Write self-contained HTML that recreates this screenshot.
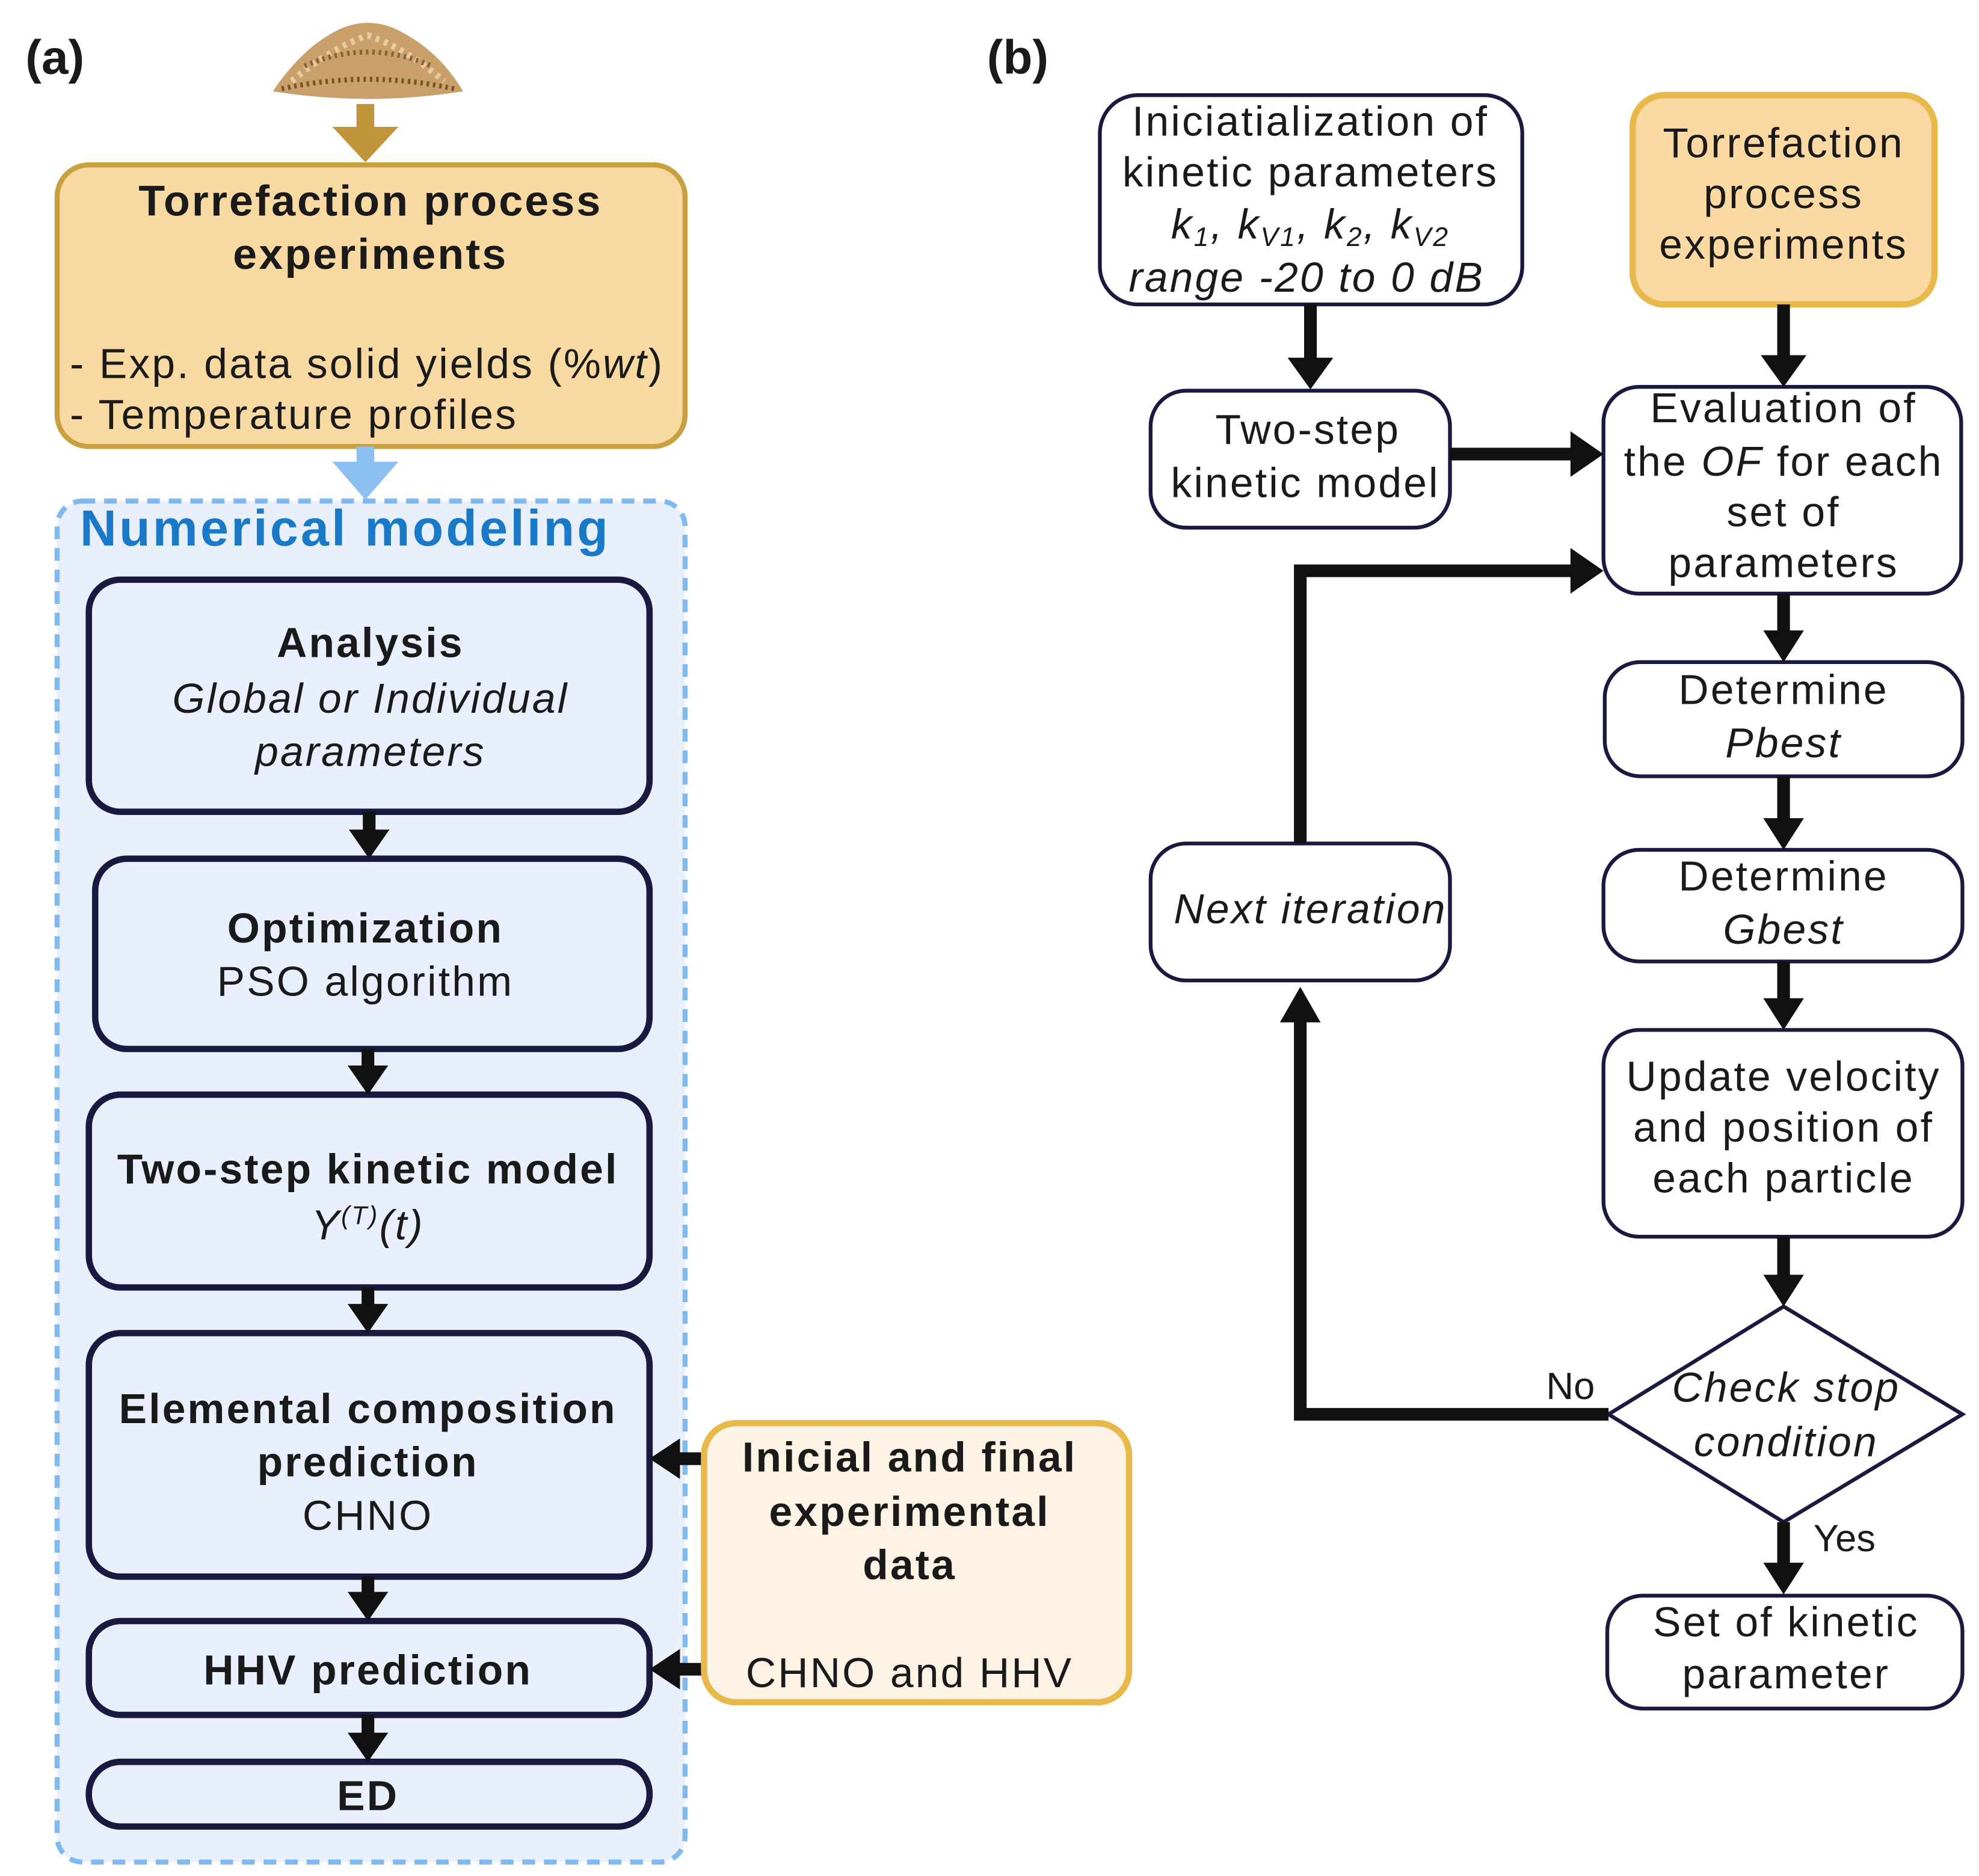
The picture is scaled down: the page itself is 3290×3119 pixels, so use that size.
<!DOCTYPE html>
<html><head><meta charset="utf-8"><style>
html,body{margin:0;padding:0;background:#fff;}
svg{display:block;}
text{font-family:"Liberation Sans",Arial,sans-serif;fill:#1a1a1a;letter-spacing:1.5px;}
.b{font-weight:bold;}
.i{font-style:italic;}
</style></head><body>
<svg width="3290" height="3119" viewBox="0 0 1560 1479" xmlns="http://www.w3.org/2000/svg">
<!-- (a) -->
<text x="20" y="58" class="b" font-size="38" style="letter-spacing:0">(a)</text>
<!-- pile -->
<path d="M215,72 Q240,35 270,22 Q290,14 310,22 Q345,38 365,72 Q290,84 215,72 Z" fill="#c9a06a"/>
<path d="M230,64 Q260,38 290,28 Q320,38 350,64" fill="none" stroke="#e6caa0" stroke-width="5" stroke-dasharray="3 4"/>
<path d="M240,52 Q290,30 340,52" fill="none" stroke="#8a6434" stroke-width="4" stroke-dasharray="2 3"/>
<path d="M222,70 Q290,55 358,70" fill="none" stroke="#7a5428" stroke-width="4" stroke-dasharray="2 3"/>
<!-- gold arrow -->
<line x1="288" y1="82" x2="288" y2="108" stroke="#c09438" stroke-width="14"/>
<polygon points="262,100 314,100 288,128" fill="#c09438"/>
<rect x="45" y="130" width="495" height="222" rx="25" fill="#f9d9a2" stroke="#c8a040" stroke-width="4"/>
<text x="292" y="170" class="b" font-size="34" text-anchor="middle">Torrefaction process</text>
<text x="292" y="212" class="b" font-size="34" text-anchor="middle">experiments</text>
<text x="55" y="298" font-size="33">- Exp. data solid yields (%<tspan class="i">wt</tspan>)</text>
<text x="55" y="338" font-size="33">- Temperature profiles</text>
<!-- blue arrow -->
<line x1="288" y1="352" x2="288" y2="372" stroke="#8cc0f0" stroke-width="14"/>
<polygon points="262,364 314,364 288,394" fill="#8cc0f0"/>
<rect x="45" y="395" width="495" height="1073" rx="20" fill="#eaf0fb" stroke="#80b8f0" stroke-width="4" stroke-dasharray="10 7"/>
<text x="63" y="430" class="b" font-size="40" style="fill:#1a7ac8;letter-spacing:2px">Numerical modeling</text>
<g fill="#e9effc" stroke="#1a1a40" stroke-width="5">
<rect x="70" y="457" width="442" height="183" rx="25"/>
<rect x="75" y="677" width="437" height="150" rx="25"/>
<rect x="70" y="863" width="442" height="152" rx="25"/>
<rect x="70" y="1051" width="442" height="192" rx="25"/>
<rect x="70" y="1278" width="442" height="74" rx="25"/>
<rect x="70" y="1389" width="442" height="51" rx="25"/>
</g>
<g font-size="33" text-anchor="middle">
<text x="292" y="518" class="b">Analysis</text>
<text x="292" y="562" class="i">Global or Individual</text>
<text x="292" y="604" class="i">parameters</text>
<text x="288" y="743" class="b">Optimization</text>
<text x="288" y="785">PSO algorithm</text>
<text x="290" y="933" class="b">Two-step kinetic model</text>
<text x="290" y="977" class="i">Y<tspan font-size="20" dy="-12">(T)</tspan><tspan dy="12">(t)</tspan></text>
<text x="290" y="1122" class="b">Elemental composition</text>
<text x="290" y="1164" class="b">prediction</text>
<text x="290" y="1206">CHNO</text>
<text x="290" y="1328" class="b">HHV prediction</text>
<text x="290" y="1427" class="b">ED</text>
</g>
<g fill="#111" stroke="#111">
<line x1="291" y1="640" x2="291" y2="658" stroke-width="10"/><polygon points="275,654 307,654 291,677" stroke="none"/>
<line x1="290" y1="827" x2="290" y2="844" stroke-width="10"/><polygon points="274,840 306,840 290,863" stroke="none"/>
<line x1="290" y1="1015" x2="290" y2="1032" stroke-width="10"/><polygon points="274,1028 306,1028 290,1051" stroke="none"/>
<line x1="290" y1="1243" x2="290" y2="1259" stroke-width="10"/><polygon points="274,1255 306,1255 290,1278" stroke="none"/>
<line x1="290" y1="1352" x2="290" y2="1370" stroke-width="10"/><polygon points="274,1366 306,1366 290,1389" stroke="none"/>
<line x1="555" y1="1150" x2="532" y2="1150" stroke-width="10"/><polygon points="536,1134 536,1166 512,1150" stroke="none"/>
<line x1="555" y1="1316" x2="532" y2="1316" stroke-width="10"/><polygon points="536,1300 536,1332 512,1316" stroke="none"/>
</g>
<rect x="555" y="1122" width="335" height="220" rx="25" fill="#fdf3e4" stroke="#e8b84a" stroke-width="5"/>
<g font-size="33" text-anchor="middle">
<text x="717" y="1160" class="b">Inicial and final</text>
<text x="717" y="1203" class="b">experimental</text>
<text x="717" y="1245" class="b">data</text>
<text x="717" y="1330">CHNO and HHV</text>
</g>
<!-- (b) -->
<text x="778" y="58" class="b" font-size="38" style="letter-spacing:0">(b)</text>
<g fill="#fff" stroke="#1a1a40" stroke-width="3">
<rect x="867" y="75" width="333" height="165" rx="30"/>
<rect x="907" y="308" width="236" height="108" rx="28"/>
<rect x="1264" y="305" width="282" height="163" rx="28"/>
<rect x="1265" y="522" width="282" height="90" rx="28"/>
<rect x="1264" y="670" width="283" height="88" rx="28"/>
<rect x="1264" y="812" width="283" height="163" rx="28"/>
<rect x="1267" y="1258" width="280" height="89" rx="28"/>
<rect x="907" y="665" width="236" height="108" rx="28"/>
<polygon points="1406,1030 1547,1115 1406,1200 1268,1115"/>
</g>
<rect x="1287" y="75" width="238" height="165" rx="25" fill="#fad9a2" stroke="#e8b84a" stroke-width="5"/>
<g font-size="33" text-anchor="middle">
<text x="1033" y="107">Iniciatialization of</text>
<text x="1033" y="147">kinetic parameters</text>
<text x="1033" y="188" class="i">k<tspan font-size="21" dy="6">1</tspan><tspan dy="-6">, k</tspan><tspan font-size="21" dy="6">V1</tspan><tspan dy="-6">, k</tspan><tspan font-size="21" dy="6">2</tspan><tspan dy="-6">, k</tspan><tspan font-size="21" dy="6">V2</tspan></text>
<text x="1030" y="230" class="i">range -20 to 0 dB</text>
<text x="1406" y="124">Torrefaction</text>
<text x="1406" y="164">process</text>
<text x="1406" y="204">experiments</text>
<text x="1031" y="350">Two-step</text>
<text x="1029" y="392">kinetic model</text>
<text x="1406" y="333">Evaluation of</text>
<text x="1406" y="375">the <tspan class="i">OF</tspan> for each</text>
<text x="1406" y="415">set of</text>
<text x="1406" y="455">parameters</text>
<text x="1406" y="555">Determine</text>
<text x="1406" y="597" class="i">Pbest</text>
<text x="1406" y="702">Determine</text>
<text x="1406" y="744" class="i">Gbest</text>
<text x="1406" y="860">Update velocity</text>
<text x="1406" y="900">and position of</text>
<text x="1406" y="940">each particle</text>
<text x="1408" y="1105" class="i">Check stop</text>
<text x="1408" y="1148" class="i">condition</text>
<text x="1408" y="1290">Set of kinetic</text>
<text x="1408" y="1331">parameter</text>
<text x="1033" y="728" class="i">Next iteration</text>
<text x="1238" y="1103" font-size="30" style="letter-spacing:0">No</text>
<text x="1454" y="1223" font-size="30" style="letter-spacing:0">Yes</text>
</g>
<g fill="#111" stroke="#111">
<line x1="1033" y1="240" x2="1033" y2="286" stroke-width="10"/><polygon points="1015,282 1051,282 1033,307" stroke="none"/>
<line x1="1406" y1="240" x2="1406" y2="284" stroke-width="10"/><polygon points="1388,280 1424,280 1406,305" stroke="none"/>
<line x1="1143" y1="358" x2="1242" y2="358" stroke-width="10"/><polygon points="1238,340 1238,376 1264,358" stroke="none"/>
<polyline points="1025,665 1025,450 1242,450" fill="none" stroke-width="10"/><polygon points="1238,432 1238,468 1264,450" stroke="none"/>
<line x1="1406" y1="468" x2="1406" y2="501" stroke-width="10"/><polygon points="1390,497 1422,497 1406,522" stroke="none"/>
<line x1="1406" y1="612" x2="1406" y2="649" stroke-width="10"/><polygon points="1390,645 1422,645 1406,670" stroke="none"/>
<line x1="1406" y1="758" x2="1406" y2="791" stroke-width="10"/><polygon points="1390,787 1422,787 1406,812" stroke="none"/>
<line x1="1406" y1="975" x2="1406" y2="1009" stroke-width="10"/><polygon points="1390,1005 1422,1005 1406,1030" stroke="none"/>
<polyline points="1268,1115 1025,1115 1025,800" fill="none" stroke-width="10"/><polygon points="1009,806 1041,806 1025,778" stroke="none"/>
<line x1="1406" y1="1200" x2="1406" y2="1236" stroke-width="10"/><polygon points="1390,1232 1422,1232 1406,1257" stroke="none"/>
</g>
</svg>
</body></html>
